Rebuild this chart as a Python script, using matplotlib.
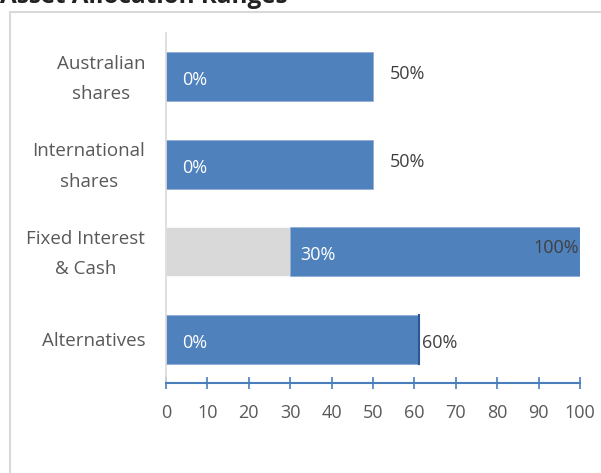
import matplotlib
matplotlib.use("Agg")
import matplotlib.pyplot as plt
from matplotlib.patches import Rectangle
from matplotlib.transforms import ScaledTranslation

categories = ["Australian\nshares", "International\nshares", "Fixed Interest\n& Cash", "Alternatives"]
min_values = [0, 0, 30, 0]
max_values = [50, 50, 100, 61]
min_labels = ["0%", "0%", "30%", "0%"]
max_labels = ["50%", "50%", "100%", "60%"]
xticks = list(range(0, 101, 10))

plt.rcParams['font.family'] = ['Open Sans', 'DejaVu Sans']

fig = plt.figure(figsize=(6.01, 4.73), dpi=100)
W, H = 601, 473

# outer frame (partially visible)
frame = Rectangle((10 / W, -0.1), 1.2, 1 - 12 / H + 0.1, transform=fig.transFigure,
                  facecolor='white', edgecolor='#d9d9d9', linewidth=1.5, zorder=-10)
fig.patches.append(frame)
fig.text(0 / W, 1 - 3 / H, "Asset Allocation Ranges", fontsize=17.5, fontweight='bold',
         color='#222222', ha='left', va='baseline')

ax = fig.add_axes([166 / W, 1 - 383 / H, (580 - 166) / W, (383 - 33) / H], zorder=5)
ax.patch.set_alpha(0)

blue = '#4f81bd'
grey = '#d9d9d9'
ypos = list(range(len(categories)))
h = 0.56

ax.barh(ypos, min_values, height=h, color=grey, edgecolor='white', linewidth=0.5)
ax.barh(ypos, [mx - mn for mn, mx in zip(min_values, max_values)], left=min_values,
        height=h, color=blue, edgecolor='#8eaad4', linewidth=0.5)
# darker end mark on alternatives
ax.plot([max_values[3], max_values[3]], [3 - h / 2, 3 + h / 2], color='#2f5597', lw=1.5)

lab_fs = 13
for i in ypos:
    off = 2.5 if min_values[i] > 0 else 4
    ax.text(min_values[i] + off, i + 0.04, min_labels[i], color='white', fontsize=lab_fs,
            ha='left', va='center')
    if max_values[i] >= 100:
        ax.text(max_values[i] - 0.2, i - 0.04, max_labels[i], color='#404040', fontsize=lab_fs,
                ha='right', va='center')
    elif i == 3:
        ax.text(max_values[i] + 0.9, i + 0.04, max_labels[i], color='#404040', fontsize=lab_fs,
                ha='left', va='center')
    else:
        ax.text(max_values[i] + 4, i - 0.03, max_labels[i], color='#404040', fontsize=lab_fs,
                ha='left', va='center')

ax.set_xlim(0, 100)
ax.set_ylim(3.5, -0.5)
ax.set_xticks(xticks)
ax.set_xticklabels([str(t) for t in xticks])
ax.set_yticks(ypos)
ax.set_yticklabels(categories, multialignment='center', linespacing=1.9)
ax.tick_params(axis='y', length=0, pad=15, labelsize=13.5, labelcolor='#595959')
ax.tick_params(axis='x', direction='inout', length=8, width=1.2, color='#4a7ebb',
               labelsize=13, labelcolor='#595959', pad=11)

shift_up = ScaledTranslation(0, 6 / 100, fig.dpi_scale_trans)
for lbl in ax.get_yticklabels():
    if '\n' in lbl.get_text():
        lbl.set_transform(lbl.get_transform() + shift_up)

for s in ['top', 'right']:
    ax.spines[s].set_visible(False)
ax.spines['left'].set_color('#d9d9d9')
ax.spines['left'].set_linewidth(1.2)
ax.spines['bottom'].set_color('#4a7ebb')
ax.spines['bottom'].set_linewidth(1.5)

fig.savefig("out.png", dpi=100)
